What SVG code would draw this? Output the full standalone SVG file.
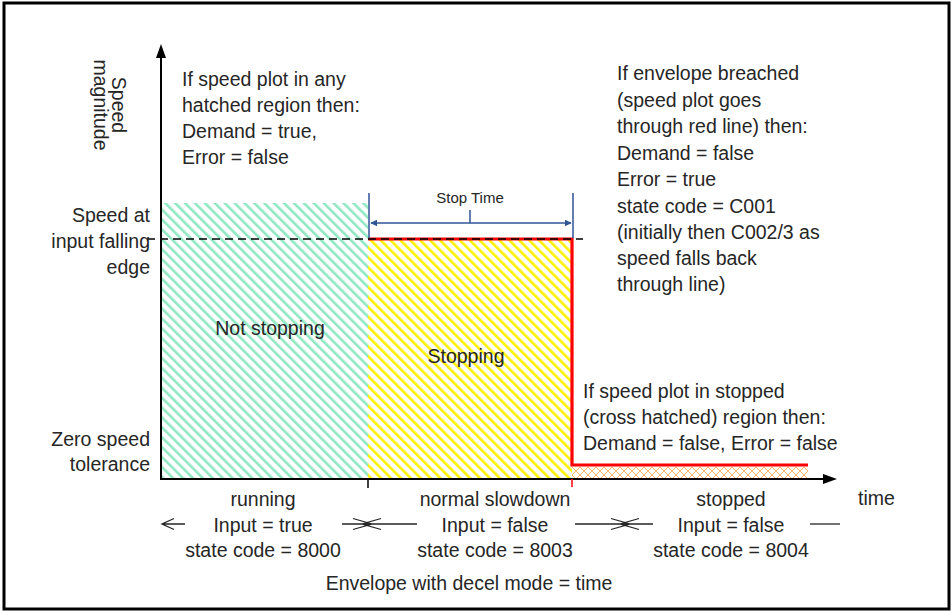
<svg xmlns="http://www.w3.org/2000/svg" width="952" height="611" viewBox="0 0 952 611">
<defs>
<style>
text{font-family:"Liberation Sans",Arial,sans-serif;font-size:19.5px;fill:#262626}
.r{text-anchor:end}
.m{text-anchor:middle}
.ax{stroke:#000;stroke-width:2;fill:none}
.dim{stroke:#2f5597;stroke-width:1.5;fill:none}
.thin{stroke:#262626;stroke-width:1.3;fill:none}
.red{stroke:#ff0000;stroke-width:3.2;fill:none}
</style>
<pattern id="green" width="7" height="7" patternUnits="userSpaceOnUse" patternTransform="rotate(-45)">
<rect width="7" height="7" fill="#fff"/>
<rect x="0" y="0" width="2.6" height="7" fill="#8fe8c2"/>
</pattern>
<pattern id="yellow" width="7" height="7" patternUnits="userSpaceOnUse" patternTransform="rotate(-45)">
<rect width="7" height="7" fill="#fff"/>
<rect x="0" y="0" width="2.6" height="7" fill="#fff200"/>
</pattern>
<pattern id="cross" width="8" height="8" patternUnits="userSpaceOnUse" x="572" y="467">
<rect width="8" height="8" fill="#fff"/>
<path d="M0 0L8 8M8 0L0 8" stroke="#f7a440" stroke-width="0.8"/>
</pattern>
<marker id="ah" viewBox="0 0 10 10" refX="9" refY="5" markerWidth="7" markerHeight="7" markerUnits="userSpaceOnUse" orient="auto">
<path d="M0 0L10 5L0 10z" fill="#2f5597"/>
</marker>
</defs>
<rect x="4" y="3" width="945" height="606" fill="#fff" stroke="#000" stroke-width="3"/>

<g id="regions">
<rect id="notStopping" x="162" y="203" width="206" height="275" fill="url(#green)"/>
<rect id="stoppingArea" x="368" y="239" width="204" height="239" fill="url(#yellow)"/>
<rect id="stoppedArea" x="572" y="467" width="236" height="11" fill="url(#cross)"/>
</g>

<g id="connectors">
<path class="red" d="M368 239H572V465H808"/>
<line x1="147" y1="239" x2="583" y2="239" stroke="#000" stroke-width="1.3" stroke-dasharray="8,5"/>
<line class="ax" x1="161" y1="479" x2="161" y2="56"/>
<path d="M161 44L156 58H166z" fill="#000"/>
<line class="ax" x1="160" y1="479" x2="824" y2="479"/>
<path d="M837 479L823 474V484z" fill="#000"/>
<line x1="368" y1="479" x2="368" y2="488" stroke="#000" stroke-width="1.5"/>
<line x1="572" y1="479" x2="572" y2="487" stroke="#ff0000" stroke-width="1.5"/>
<line class="dim" x1="369" y1="193" x2="369" y2="238"/>
<line class="dim" x1="573" y1="193" x2="573" y2="238"/>
<line class="dim" x1="470" y1="210" x2="470" y2="223"/>
<line class="dim" x1="470" y1="223" x2="371" y2="223" marker-end="url(#ah)"/>
<line class="dim" x1="470" y1="223" x2="571" y2="223" marker-end="url(#ah)"/>
<g id="phaseArrows">
<path class="thin" d="M162 524H185M174 518.5L162 524L174 529.5"/>
<path class="thin" d="M342 524H417M353 518.5L372 524L353 529.5M381 518.5L362 524L381 529.5"/>
<path class="thin" d="M575 524H653M611 518.5L630 524L611 529.5M639 518.5L620 524L639 529.5"/>
<path class="thin" d="M810 524H840"/>
</g>
</g>

<g id="yLabel"><text transform="translate(112 105) rotate(90)" class="m"><tspan x="0" y="0">Speed</tspan><tspan x="0" y="18">magnitude</tspan></text></g>
<g id="hatchNote"><text x="182" y="86">If speed plot in any</text><text x="182" y="112">hatched region then:</text><text x="182" y="138">Demand = true,</text><text x="182" y="164">Error = false</text></g>
<g id="breachNote">
<text x="617" y="80">If envelope breached</text>
<text x="617" y="107">(speed plot goes</text>
<text x="617" y="133">through red line) then:</text>
<text x="617" y="160">Demand = false</text>
<text x="617" y="186">Error = true</text>
<text x="617" y="213">state code = C001</text>
<text x="617" y="239">(initially then C002/3 as</text>
<text x="617" y="265">speed falls back</text>
<text x="617" y="291">through line)</text>
</g>
<g id="speedFalling"><text class="r" x="150" y="222">Speed at</text><text class="r" x="150" y="248">input falling</text><text class="r" x="150" y="274">edge</text></g>
<g id="zeroSpeed"><text class="r" x="150" y="446">Zero speed</text><text class="r" x="150" y="471">tolerance</text></g>
<g id="notStoppingLabel"><text class="m" x="270" y="335">Not stopping</text></g>
<g id="stoppingLabel"><text class="m" x="466" y="363">Stopping</text></g>
<g id="stopTime"><text class="m" x="470" y="203" style="font-size:15px">Stop Time</text></g>
<g id="stoppedNote"><text x="583" y="398">If speed plot in stopped</text><text x="583" y="424">(cross hatched) region then:</text><text x="583" y="450">Demand = false, Error = false</text></g>
<g id="running"><text class="m" x="263" y="506">running</text><text class="m" x="263" y="532">Input = true</text><text class="m" x="263" y="557">state code = 8000</text></g>
<g id="slowdown"><text class="m" x="495" y="506">normal slowdown</text><text class="m" x="495" y="532">Input = false</text><text class="m" x="495" y="557">state code = 8003</text></g>
<g id="stopped"><text class="m" x="731" y="506">stopped</text><text class="m" x="731" y="532">Input = false</text><text class="m" x="731" y="557">state code = 8004</text></g>
<g id="timeLabel"><text x="858" y="505">time</text></g>
<g id="envelope"><text class="m" x="469" y="590">Envelope with decel mode = time</text></g>
</svg>
